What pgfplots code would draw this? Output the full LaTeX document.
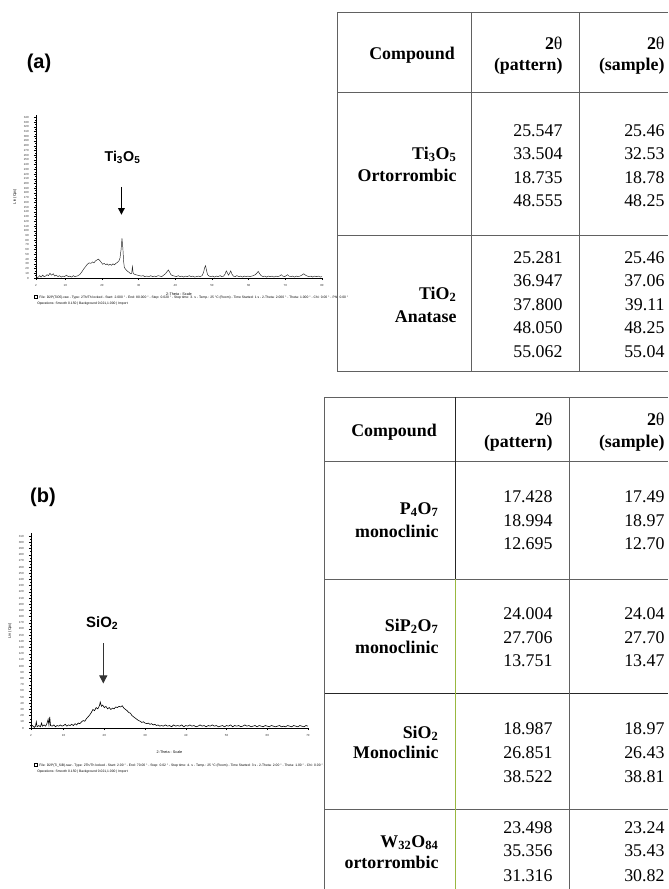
\documentclass[border=0pt]{standalone}
\usepackage{fontspec}
\setmainfont{Liberation Serif}
\setsansfont{Liberation Sans}
\usepackage{pgfplots}
\usepackage{pgfplotstable}
\pgfplotsset{compat=1.18}
\usetikzlibrary{arrows.meta}

\pgfplotstableread{
x y
2.0 3
2.5 1
3.0 5
3.4 2
3.8 6
4.2 3
4.6 4
5.0 7
5.4 5
5.8 10
6.2 6
6.7 9
7.1 4
7.5 6
8.0 3
8.4 5
8.9 2
9.3 4
9.8 3
10.3 6
10.8 3
11.2 4
11.7 2
12.2 5
12.6 3
13.1 4
13.5 5
14.0 8
14.5 13
15.0 19
15.5 24
16.0 29
16.5 32
17.0 31
17.4 34
17.8 32
18.2 36
18.6 38
19.0 40
19.4 37
19.8 33
20.2 29
20.6 31
21.0 28
21.4 30
21.8 27
22.2 29
22.6 27
23.0 30
23.4 28
23.8 31
24.2 33
24.6 36
24.9 42
25.2 60
25.45 84
25.7 62
25.9 35
26.1 22
26.5 18
27.0 14
27.4 12
27.8 9
28.1 10
28.3 24
28.5 10
28.8 8
29.2 7
29.7 6
30.2 5
30.7 4
31.2 5
31.7 3
32.2 4
32.8 3
33.3 5
33.8 3
34.3 4
34.8 3
35.3 5
35.8 4
36.3 3
36.8 6
37.3 9
37.8 14
38.1 17
38.4 13
38.8 7
39.3 5
39.8 4
40.3 3
40.8 5
41.3 3
41.8 4
42.3 2
42.8 4
43.3 3
43.8 5
44.3 3
44.8 4
45.3 2
45.8 3
46.3 4
46.8 3
47.3 5
47.7 12
48.0 22
48.25 26
48.5 16
48.8 7
49.2 4
49.7 3
50.2 4
50.7 2
51.2 4
51.7 3
52.2 5
52.7 3
53.2 4
53.6 9
53.9 15
54.2 11
54.5 6
54.8 10
55.1 15
55.4 9
55.8 4
56.3 3
56.8 5
57.3 3
57.8 4
58.3 2
58.8 4
59.3 3
59.8 4
60.3 3
60.8 4
61.3 5
61.8 7
62.2 10
62.6 14
63.0 9
63.4 5
63.9 3
64.4 4
64.9 2
65.4 4
65.9 3
66.4 4
66.9 2
67.4 4
67.9 3
68.4 4
68.9 7
69.3 4
69.8 3
70.3 5
70.6 7
71.0 4
71.5 3
72.0 4
72.5 2
73.0 4
73.5 3
74.0 4
74.5 6
75.0 9
75.5 6
76.0 4
76.5 3
77.0 4
77.5 2
78.0 4
78.5 3
79.0 4
79.5 2
80.0 3
}\dataA

\pgfplotstableread{
x y
2.0 2
2.4 4
2.8 1
3.1 3
3.3 10
3.5 2
3.9 4
4.3 2
4.6 8
4.8 3
5.2 5
5.6 3
5.9 7
6.2 14
6.4 5
6.6 18
6.8 4
7.2 3
7.6 5
8.0 2
8.4 4
8.8 3
9.2 5
9.6 3
10.0 4
10.4 6
10.8 3
11.2 5
11.6 4
12.0 6
12.4 4
12.8 7
13.2 5
13.6 8
14.0 7
14.4 10
14.8 12
15.2 11
15.6 15
16.0 18
16.4 21
16.8 25
17.2 30
17.6 28
18.0 33
18.4 31
18.8 36
19.0 42
19.3 35
19.6 37
20.0 33
20.4 35
20.8 31
21.2 33
21.6 30
22.0 32
22.4 31
22.8 34
23.2 33
23.6 35
24.0 34
24.4 36
24.8 32
25.2 30
25.6 28
26.0 25
26.4 24
26.8 20
27.2 18
27.6 16
28.0 14
28.4 12
28.8 11
29.2 9
29.6 10
30.0 8
30.4 7
30.8 8
31.2 6
31.6 7
32.0 5
32.4 6
32.8 4
33.2 5
33.6 3
34.0 4
34.5 3
35.0 5
35.5 3
36.0 4
36.5 2
37.0 5
37.5 3
38.0 4
38.5 3
39.0 5
39.5 2
40.0 4
40.5 3
41.0 5
41.5 3
42.0 4
42.5 2
43.0 3
43.5 5
44.0 3
44.5 4
45.0 2
45.5 4
46.0 3
46.5 5
47.0 3
47.5 4
48.0 2
48.5 3
49.0 4
49.5 2
50.0 4
50.5 3
51.0 5
51.5 2
52.0 4
52.5 3
53.0 4
53.5 2
54.0 3
54.5 5
55.0 3
55.5 4
56.0 2
56.5 3
57.0 4
57.5 2
58.0 4
58.5 3
59.0 2
59.5 4
60.0 3
60.5 2
61.0 4
61.5 3
62.0 2
62.5 3
63.0 4
63.5 2
64.0 3
64.5 2
65.0 4
65.5 3
66.0 2
66.5 4
67.0 3
67.5 2
68.0 4
68.5 3
69.0 2
69.5 4
70.0 3
}\dataB

\pgfplotsset{
  xrd/.style={
    scale only axis,
    anchor=south west,
    axis lines*=left,
    axis line style={black, line width=0.4pt},
    tick align=outside,
    tick pos=left,
    major tick length=1.6pt,
    minor tick length=0.9pt,
    minor y tick num=1,
    minor x tick num=4,
    every tick/.style={black, line width=0.25pt},
    ymin=0,
    tick label style={font=\fontsize{2.2}{2.4}\selectfont\sffamily, text=black!80},
    /pgf/number format/assume math mode=true,
    yticklabel style={xshift=-0.3pt},
    xticklabel style={yshift=0.3pt},
    label style={font=\fontsize{2.8}{3.2}\selectfont\sffamily},
    xlabel={2-Theta - Scale},
    ylabel={Lin (Cps)},
    ylabel style={yshift=-1.5pt},
    clip=false,
  }
}

\begin{document}
\begin{tikzpicture}
\useasboundingbox (0,0) rectangle (501pt,-666.75pt);

% ---------- plot (a) ----------
\begin{axis}[xrd,
  at={(27pt,-208.5pt)},
  width=214.5pt, height=122.25pt,
  xmin=2, xmax=80, ymax=345,
  xtick={2,10,20,...,80},
  ytick={0,10,...,340},
  xlabel style={yshift=2.2pt},
]
\addplot[black!85, line width=0.35pt, mark=none] table[x=x,y=y] {\dataA};
\draw[line width=0.8pt, -{Triangle[length=5pt,width=5pt]}] (axis cs:25.3,193) -- (axis cs:25.3,134);
\node[font=\fontsize{10.7}{12}\selectfont\sffamily\bfseries] at (axis cs:25.6,256) {Ti\textsubscript{3}O\textsubscript{5}};
\end{axis}

% ---------- plot (b) ----------
\begin{axis}[xrd,
  at={(23.25pt,-546pt)},
  width=207.75pt, height=146.25pt,
  xmin=2, xmax=70, ymax=315,
  xtick={2,10,20,...,70},
  ytick={0,10,...,310},
  xlabel style={yshift=-4pt},
]
\addplot[black, line width=0.45pt, mark=none] table[x=x,y=y] {\dataB};
\draw[line width=0.8pt, black!80, -{Triangle[length=6pt,width=6pt]}] (axis cs:19.75,137) -- (axis cs:19.75,72);
\node[font=\fontsize{11.2}{12}\selectfont\sffamily\bfseries] at (axis cs:19.5,169) {SiO\textsubscript{2}};
\end{axis}

\begin{scope}[x=0.75pt, y=-0.75pt]
% panel letters
\node[font=\fontsize{15}{16}\selectfont\sffamily\bfseries] at (39,63) {(a)};
\node[font=\fontsize{15}{16}\selectfont\sffamily\bfseries] at (43,497) {(b)};

% captions under plots
\begin{scope}[every node/.style={font=\fontsize{2.5}{3}\selectfont\sffamily, inner sep=0pt, anchor=base west}]
\draw[line width=0.25pt] (34.5,295.5) rectangle (37.5,298.5);
\node at (39,298.6) {File: D2P(TiO5).raw - Type: 2Th/Th locked - Start: 2.000 ° - End: 80.000 ° - Step: 0.020 ° - Step time: 3. s - Temp.: 25 °C (Room) - Time Started: 1 s - 2-Theta: 2.000 ° - Theta: 1.000 ° - Chi: 0.00 ° - Phi: 0.00 °};
\node at (37,304) {Operations: Smooth 0.150 | Background 0.021,1.000 | Import};
\draw[line width=0.25pt] (34.5,763.5) rectangle (37.5,766.5);
\node at (39,766.6) {File: D2P(Ti\_SiB).raw - Type: 2Th/Th locked - Start: 2.00 ° - End: 70.00 ° - Step: 0.02 ° - Step time: 4. s - Temp.: 25 °C (Room) - Time Started: 3 s - 2-Theta: 2.00 ° - Theta: 1.00 ° - Chi: 0.00 ° -};
\node at (37,772) {Operations: Smooth 0.150 | Background 0.021,1.000 | Import};
\end{scope}

% ---------- table (a) ----------
\begin{scope}[line width=0.75pt, draw={rgb,1:red,0.38;green,0.38;blue,0.38},
  every node/.style={font=\fontsize{13.4}{17}\selectfont, inner sep=0pt, anchor=base east}]
\draw (337,12) -- (668,12);
\draw (337,92) -- (668,92);
\draw (337,235) -- (668,235);
\draw (337,371) -- (668,371);
\draw (337,12) -- (337,371);
\draw (471,12) -- (471,371);
\draw (579,12) -- (579,371);

\node[anchor=base] at (412,59) {\textbf{Compound}};
\node at (563,49) {\textbf{2}θ};
\node at (563,70) {\textbf{(pattern)}};
\node at (665,49) {\textbf{2}θ};
\node at (665,70) {\textbf{(sample)}};

\node at (457,159) {\textbf{Ti\textsubscript{3}O\textsubscript{5}}};
\node at (457,181) {\textbf{Ortorrombic}};
\node at (563,136) {25.547};
\node at (563,159.5) {33.504};
\node at (563,183) {18.735};
\node at (563,206.5) {48.555};
\node at (665,136) {25.46};
\node at (665,159.5) {32.53};
\node at (665,183) {18.78};
\node at (665,206.5) {48.25};

\node at (457,299) {\textbf{TiO\textsubscript{2}}};
\node at (457,322) {\textbf{Anatase}};
\node at (563,263) {25.281};
\node at (563,286.5) {36.947};
\node at (563,310) {37.800};
\node at (563,333.5) {48.050};
\node at (563,357) {55.062};
\node at (665,263) {25.46};
\node at (665,286.5) {37.06};
\node at (665,310) {39.11};
\node at (665,333.5) {48.25};
\node at (665,357) {55.04};
\end{scope}

% ---------- table (b) ----------
\begin{scope}[line width=0.75pt, draw={rgb,1:red,0.38;green,0.38;blue,0.38},
  every node/.style={font=\fontsize{13.4}{17}\selectfont, inner sep=0pt, anchor=base east}]
\draw (324,397) -- (668,397);
\draw (324,461) -- (668,461);
\draw (324,579) -- (668,579);
\draw[draw=black!85] (324,693) -- (668,693);
\draw (324,809) -- (668,809);
\draw (324,397) -- (324,889);
\draw[draw=black!85] (455,397) -- (455,579);
\draw[draw={rgb,1:red,0.6;green,0.72;blue,0.25}] (455,579) -- (455,889);
\draw (569,397) -- (569,889);

\node[anchor=base] at (394,436) {\textbf{Compound}};
\node at (553,425) {\textbf{2}θ};
\node at (553,447) {\textbf{(pattern)}};
\node at (665,425) {\textbf{2}θ};
\node at (665,447) {\textbf{(sample)}};

\node at (439,514) {\textbf{P\textsubscript{4}O\textsubscript{7}}};
\node at (439,537) {\textbf{monoclinic}};
\node at (553,502) {17.428};
\node at (553,526) {18.994};
\node at (553,549) {12.695};
\node at (665,502) {17.49};
\node at (665,526) {18.97};
\node at (665,549) {12.70};

\node at (439,631) {\textbf{SiP\textsubscript{2}O\textsubscript{7}}};
\node at (439,653) {\textbf{monoclinic}};
\node at (553,619) {24.004};
\node at (553,643) {27.706};
\node at (553,666) {13.751};
\node at (665,619) {24.04};
\node at (665,643) {27.70};
\node at (665,666) {13.47};

\node at (439,738) {\textbf{SiO\textsubscript{2}}};
\node at (439,758) {\textbf{Monoclinic}};
\node at (553,734) {18.987};
\node at (553,758) {26.851};
\node at (553,782) {38.522};
\node at (665,734) {18.97};
\node at (665,758) {26.43};
\node at (665,782) {38.81};

\node at (439,847) {\textbf{W\textsubscript{32}O\textsubscript{84}}};
\node at (439,868) {\textbf{ortorrombic}};
\node at (553,833) {23.498};
\node at (553,856) {35.356};
\node at (553,881) {31.316};
\node at (665,833) {23.24};
\node at (665,856) {35.43};
\node at (665,881) {30.82};
\end{scope}
\end{scope}
\end{tikzpicture}
\end{document}
